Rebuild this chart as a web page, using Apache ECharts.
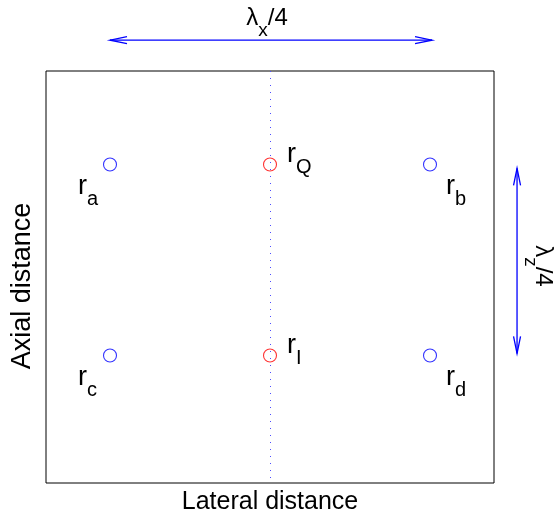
<!DOCTYPE html>
<html>
<head>
<meta charset="utf-8">
<script src="https://cdn.jsdelivr.net/npm/echarts@6/dist/echarts.min.js"></script>
<style>
  html, body { margin: 0; padding: 0; background: #fff; }
  #chart { width: 554px; height: 520px; }
</style>
</head>
<body>
<div id="chart"></div>
<script>
// Sample positions: lateral in units of λx, axial in units of λz
const sampleNames   = ['a', 'Q', 'b', 'c', 'I', 'd'];
const sampleLateral = [-0.125, 0, 0.125, -0.125, 0, 0.125];
const sampleAxial   = [-0.125, -0.125, -0.125, 0.125, 0.125, 0.125];
// 'ref' = reference samples (blue), 'iq' = in-phase / quadrature samples (red)
const sampleGroup   = ['ref', 'iq', 'ref', 'ref', 'iq', 'ref'];

const lateralRange = [-0.175, 0.175];
const axialRange   = [-0.2474, 0.292];

// Quarter-wavelength spacing arrows
const arrowNames    = ['lateral', 'axial'];
const arrowFrom     = [[-0.125, -0.2878], [0.193, -0.12]];
const arrowTo       = [[0.1266, -0.2878], [0.193, 0.1224]];
const arrowLabelSub = ['x', 'z'];

const FONT = '"Liberation Sans", Arial, Helvetica, sans-serif';
const BLUE = '#0000ff';
const RED = '#ff0000';

const measureCtx = document.createElement('canvas').getContext('2d');
function textWidth(text, size) {
  measureCtx.font = size + 'px ' + FONT;
  return measureCtx.measureText(text).width;
}
// text element placed by its alphabetic baseline
function textAt(text, x, baseline, size) {
  return {
    type: 'text',
    x: x,
    y: baseline - 0.3465 * size,
    style: {
      text: text, fill: '#000', fontSize: size, fontFamily: FONT,
      align: 'left', verticalAlign: 'middle'
    }
  };
}

const MAIN = 27, SUB = 20;
const LAMBDA = 24, LAMBDA_SUB = 19;

const blueData = [], redData = [];
sampleNames.forEach((n, i) => {
  const p = [sampleLateral[i], sampleAxial[i]];
  (sampleGroup[i] === 'ref' ? blueData : redData).push(p);
});
const labelData = sampleNames.map((n, i) => [sampleLateral[i], sampleAxial[i], i]);
const arrowData = arrowNames.map((n, i) => [arrowFrom[i][0], arrowFrom[i][1], arrowTo[i][0], arrowTo[i][1], i]);

function renderSampleLabel(params, api) {
  const i = api.value(2);
  const c = api.coord([api.value(0), api.value(1)]);
  let dx, dy;
  if (sampleGroup[i] === 'iq') { dx = 17; dy = -1; }
  else if (sampleLateral[i] < 0) { dx = -32; dy = 31; }
  else { dx = 16; dy = 31; }
  const x0 = c[0] + dx, b0 = c[1] + dy;
  const rw = textWidth('r', MAIN);
  return {
    type: 'group',
    children: [
      textAt('r', x0, b0, MAIN),
      textAt(sampleNames[i], x0 + rw, b0 + 11, SUB)
    ]
  };
}

function arrowHead(tip, dir, color) {
  const len = 17, half = 3.5;
  const nx = -dir[1], ny = dir[0];
  const bx = tip[0] - dir[0] * len, by = tip[1] - dir[1] * len;
  return {
    type: 'polyline',
    shape: { points: [[bx + nx * half, by + ny * half], tip, [bx - nx * half, by - ny * half]] },
    style: { stroke: color, lineWidth: 1.3, fill: null }
  };
}

function lambdaLabel(sub) {
  const w1 = textWidth('λ', LAMBDA);
  const w2 = textWidth(sub, LAMBDA_SUB);
  const w3 = textWidth('/4', LAMBDA);
  const total = w1 + w2 + w3;
  const x0 = -total / 2;
  return [
    textAt('λ', x0, 0, LAMBDA),
    textAt(sub, x0 + w1, 10, LAMBDA_SUB),
    textAt('/4', x0 + w1 + w2, 0, LAMBDA)
  ];
}

function renderArrow(params, api) {
  const i = api.value(4);
  const p1 = api.coord([api.value(0), api.value(1)]);
  const p2 = api.coord([api.value(2), api.value(3)]);
  const L = Math.hypot(p2[0] - p1[0], p2[1] - p1[1]);
  const d = [(p2[0] - p1[0]) / L, (p2[1] - p1[1]) / L];
  const mid = [(p1[0] + p2[0]) / 2, (p1[1] + p2[1]) / 2];
  const children = [
    { type: 'line', shape: { x1: p1[0], y1: p1[1], x2: p2[0], y2: p2[1] },
      style: { stroke: BLUE, lineWidth: 1.3 } },
    arrowHead(p1, [-d[0], -d[1]], BLUE),
    arrowHead(p2, d, BLUE)
  ];
  if (arrowNames[i] === 'lateral') {
    children.push({ type: 'group', x: mid[0] - 4, y: mid[1] - 13,
      children: lambdaLabel(arrowLabelSub[i]) });
  } else {
    children.push({ type: 'group', x: mid[0] + 17, y: mid[1] + 5,
      rotation: -Math.PI / 2, children: lambdaLabel(arrowLabelSub[i]) });
  }
  return { type: 'group', children: children };
}

const chart = echarts.init(document.getElementById('chart'), null, { renderer: 'canvas' });
chart.setOption({
  animation: false,
  backgroundColor: '#fff',
  grid: {
    left: 46, right: 60, top: 71, bottom: 35,
    show: true, borderColor: '#000', borderWidth: 1, backgroundColor: 'transparent'
  },
  xAxis: {
    type: 'value', min: lateralRange[0], max: lateralRange[1],
    name: 'Lateral distance', nameLocation: 'middle', nameGap: 7,
    nameTextStyle: { fontSize: 25, fontFamily: FONT, color: '#000' },
    axisLine: { show: false }, axisTick: { show: false },
    axisLabel: { show: false }, splitLine: { show: false }
  },
  yAxis: {
    type: 'value', min: axialRange[0], max: axialRange[1], inverse: true,
    name: 'Axial distance', nameLocation: 'middle', nameGap: 10, nameRotate: 90,
    nameTextStyle: { fontSize: 27, fontFamily: FONT, color: '#000', padding: [0, 18, 0, 0] },
    axisLine: { show: false }, axisTick: { show: false },
    axisLabel: { show: false }, splitLine: { show: false }
  },
  series: [
    {
      type: 'scatter', data: blueData, symbol: 'circle', symbolSize: 13,
      itemStyle: { color: 'transparent', borderColor: BLUE, borderWidth: 1.1 },
      markLine: {
        silent: true, symbol: 'none', label: { show: false },
        lineStyle: { color: '#4d4dff', width: 1, type: [1, 6] },
        data: [{ xAxis: 0 }]
      },
      z: 3
    },
    {
      type: 'scatter', data: redData, symbol: 'circle', symbolSize: 13,
      itemStyle: { color: 'transparent', borderColor: RED, borderWidth: 1.1 },
      z: 4
    },
    {
      type: 'custom', data: labelData, renderItem: renderSampleLabel,
      clip: false, silent: true, z: 5
    },
    {
      type: 'custom', data: arrowData, renderItem: renderArrow,
      clip: false, silent: true, z: 5
    }
  ]
});
</script>
</body>
</html>
